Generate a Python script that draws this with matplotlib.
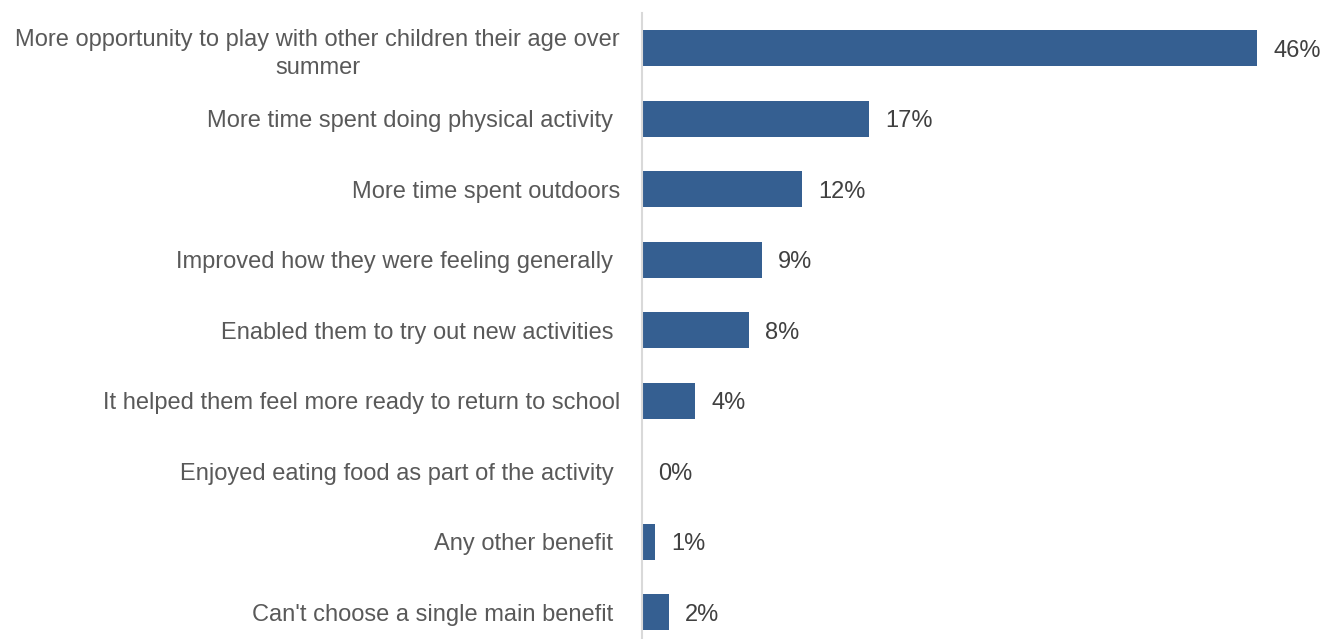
import matplotlib
matplotlib.use("Agg")
import matplotlib.pyplot as plt

# Main benefit reported for the children
categories = [
    "More opportunity to play with other children their age over\nsummer",
    "More time spent doing physical activity ",
    "More time spent outdoors",
    "Improved how they were feeling generally ",
    "Enabled them to try out new activities ",
    "It helped them feel more ready to return to school",
    "Enjoyed eating food as part of the activity ",
    "Any other benefit ",
    "Can't choose a single main benefit ",
]
values = [46, 17, 12, 9, 8, 4, 0, 1, 2]
value_labels = ["46%", "17%", "12%", "9%", "8%", "4%", "0%", "1%", "2%"]

bar_color = "#355F91"
label_color = "#595959"
value_color = "#404040"
axis_color = "#D9D9D9"

plt.rcParams["font.family"] = ["Liberation Sans", "DejaVu Sans"]

fig = plt.figure(figsize=(13.24, 6.39), dpi=100)
ax = fig.add_axes([642 / 1324, 0, 1 - 642 / 1324, 1 - 13 / 639])

pos = list(range(len(categories)))
ax.barh(pos, values, height=0.51, color=bar_color)

ax.set_xlim(0, 51.0)
ax.set_ylim(8.38, -0.5)

for p, v, lab in zip(pos, values, value_labels):
    ax.annotate(lab, xy=(v, p), xytext=(11.5, 0), textcoords="offset points",
                ha="left", va="center_baseline", fontsize=17, color=value_color)

ax.set_yticks(pos)
ax.set_yticklabels(categories, fontsize=17, color=label_color,
                   multialignment="center", linespacing=1.35)
ax.tick_params(axis="y", length=0, pad=15.8)
ax.set_xticks([])

for side in ("top", "right", "bottom"):
    ax.spines[side].set_visible(False)
ax.spines["left"].set_color(axis_color)
ax.spines["left"].set_linewidth(1.5)

fig.savefig("out.png", dpi=100)
